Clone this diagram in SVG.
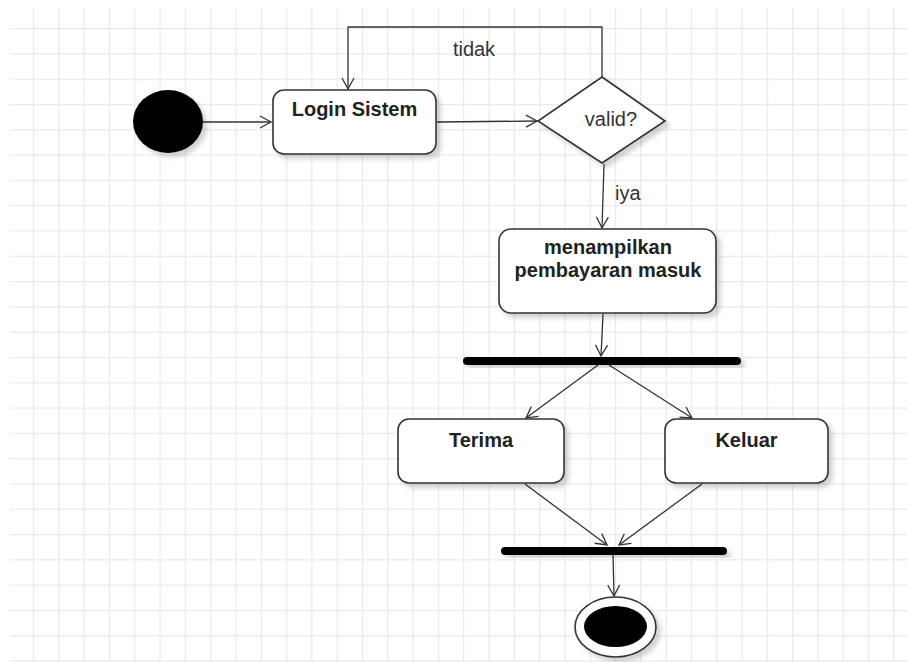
<svg xmlns="http://www.w3.org/2000/svg" width="907" height="662" viewBox="0 0 907 662">
<defs>
  <pattern id="grid" patternUnits="userSpaceOnUse" x="7.7" y="2.7" width="25.3" height="25.3">
    <rect x="0" y="0" width="1.2" height="25.3" fill="#e9e9e9"/>
    <rect x="0" y="0" width="25.3" height="1.2" fill="#e9e9e9"/>
  </pattern>
  <filter id="sh" x="-20%" y="-20%" width="150%" height="150%">
    <feDropShadow dx="4" dy="4" stdDeviation="2.5" flood-color="#000" flood-opacity="0.18"/>
  </filter>
  <marker id="arr" markerUnits="userSpaceOnUse" markerWidth="16" markerHeight="16" refX="12" refY="7" orient="auto">
    <path d="M1,1 L12,7 L1,13" fill="none" stroke="#333" stroke-width="1.3"/>
  </marker>
</defs>
<style>
  .box{fill:#fff;stroke:#333;stroke-width:1.6;filter:url(#sh)}
  .lbl{font-family:"Liberation Sans",Arial,sans-serif;font-size:20px;font-weight:bold;fill:#222;text-anchor:middle}
  .txt{font-family:"Liberation Sans",Arial,sans-serif;font-size:20px;fill:#333}
  .edge{fill:none;stroke:#333;stroke-width:1.3;marker-end:url(#arr)}
  .bar{fill:#000;filter:url(#sh)}
</style>
<rect width="907" height="662" fill="#fff"/>
<rect x="10" y="8" width="897" height="654" fill="url(#grid)"/>

<g id="connectors">
  <path class="edge" d="M203,122 L271,122"/>
  <path class="edge" d="M437,122 L537,121"/>
  <path class="edge" d="M602,77 L602,27 L348,27 L348,89"/>
  <path class="edge" d="M604,164 L602,228"/>
  <path class="edge" d="M603,314 L601,356"/>
  <path class="edge" d="M598,365 L526,418"/>
  <path class="edge" d="M609,365 L692,418"/>
  <path class="edge" d="M525,484 L607,545"/>
  <path class="edge" d="M702,484 L619,545"/>
  <path class="edge" d="M613,555 L614,596"/>
  <text class="txt" x="474" y="56" text-anchor="middle">tidak</text>
  <text class="txt" x="615" y="200">iya</text>
</g>

<g id="start">
  <ellipse cx="168" cy="121.5" rx="35" ry="31.5" fill="#000" filter="url(#sh)"/>
</g>

<g id="login">
  <rect class="box" x="273" y="90" width="163" height="64" rx="11"/>
  <text class="lbl" x="354.5" y="116">Login Sistem</text>
</g>

<g id="valid">
  <polygon class="box" points="602,77 665,121 602,163 538,121"/>
  <text class="txt" x="611" y="126" text-anchor="middle">valid?</text>
</g>

<g id="menampilkan">
  <rect class="box" x="499" y="229" width="217" height="84" rx="12"/>
  <text class="lbl" x="608" y="254">menampilkan</text>
  <text class="lbl" x="608" y="277">pembayaran masuk</text>
</g>

<g id="fork">
  <rect class="bar" x="463" y="357" width="278" height="8" rx="4"/>
</g>

<g id="terima">
  <rect class="box" x="398" y="419" width="166" height="64" rx="11"/>
  <text class="lbl" x="481" y="447">Terima</text>
</g>

<g id="keluar">
  <rect class="box" x="665" y="419" width="163" height="64" rx="11"/>
  <text class="lbl" x="746.5" y="447">Keluar</text>
</g>

<g id="join">
  <rect class="bar" x="501" y="547" width="226" height="8" rx="4"/>
</g>

<g id="end">
  <ellipse cx="615.5" cy="627" rx="40.5" ry="30" fill="#fff" stroke="#333" stroke-width="1.6" filter="url(#sh)"/>
  <ellipse cx="615.5" cy="626.5" rx="31.5" ry="20.5" fill="#000"/>
</g>
</svg>
